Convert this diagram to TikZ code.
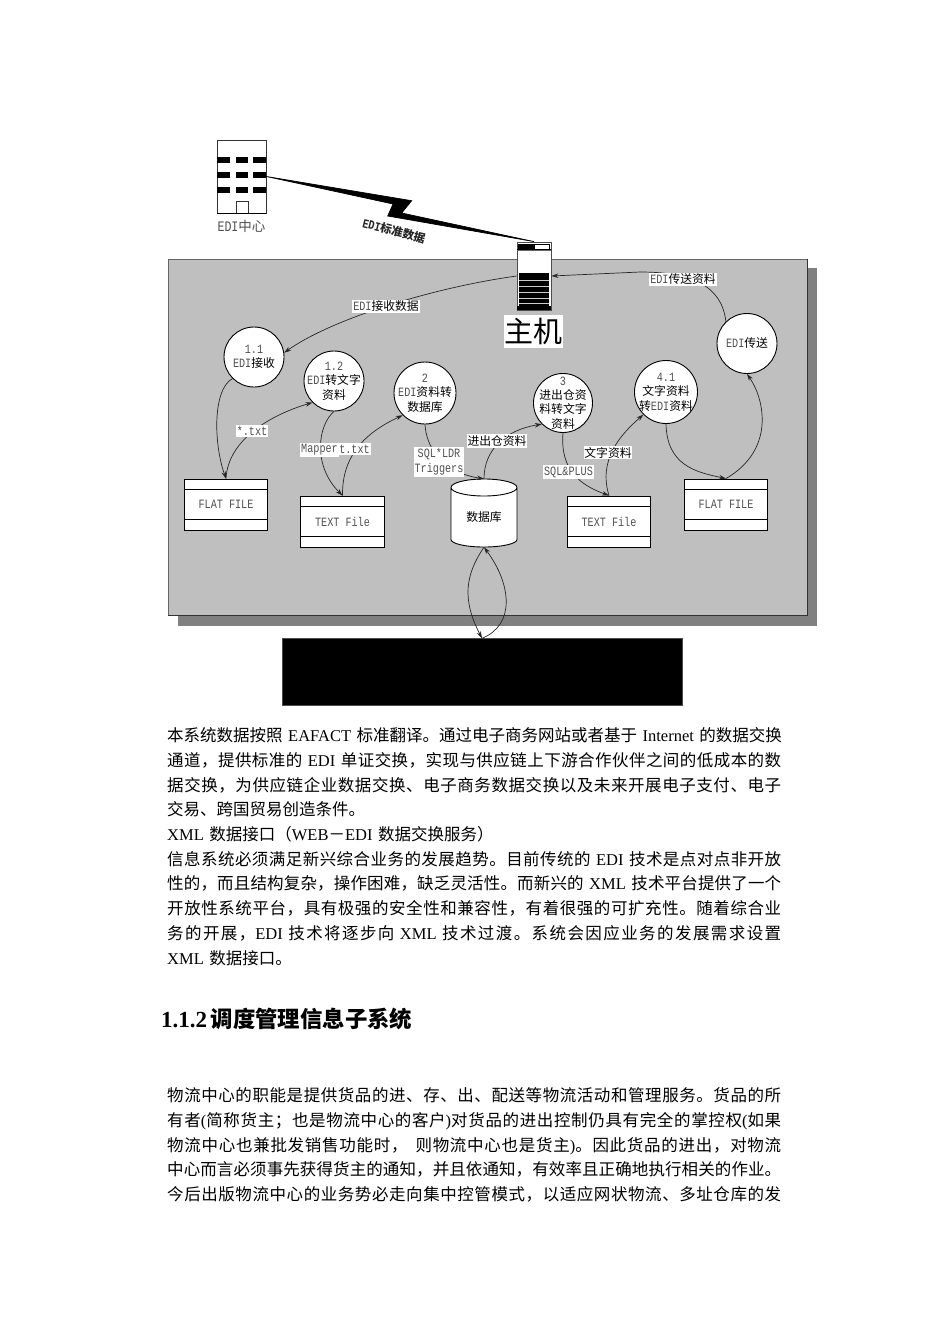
\documentclass[tikz,border=0pt]{standalone}
\usepackage{fontspec}
\usetikzlibrary{arrows.meta,calc}
\setmainfont{Noto Sans CJK SC}
\newfontfamily\enfont{Liberation Serif}
\newfontfamily\mofont[FakeStretch=0.8]{Liberation Mono}
\newcommand{\en}[1]{{\enfont #1}}
\definecolor{txtgray}{HTML}{505050}
\newcommand{\mo}[1]{{\mofont\fontsize{12.7}{13}\selectfont\color{txtgray}#1}}
% inter-character glue for justified CJK lines
\newXeTeXintercharclass\cjkc
\count255="4E00
\loop \XeTeXcharclass\count255=\cjkc \ifnum\count255<"9FFF \advance\count255 by 1 \repeat
\XeTeXcharclass"3001=\cjkc \XeTeXcharclass"3002=\cjkc \XeTeXcharclass"FF0C=\cjkc
\XeTeXcharclass"FF1B=\cjkc \XeTeXcharclass"FF08=\cjkc \XeTeXcharclass"FF09=\cjkc \XeTeXcharclass"FF0D=\cjkc
\XeTeXinterchartoks\cjkc\cjkc={\hskip 0pt plus 1pt\relax}
\XeTeXinterchartoks\cjkc 0={\hskip 0pt plus 1pt\relax}
\XeTeXinterchartoks 0\cjkc={\hskip 0pt plus 1pt\relax}
\newcommand{\fullline}[1]{\hbox to 614pt{\XeTeXinterchartokenstate=1 #1}}
\newcommand{\lastline}[1]{\hbox to 614pt{\XeTeXinterchartokenstate=0 #1\hfil}}
\tikzset{
  proc/.style={circle,draw=black,fill=white,line width=.9pt,inner sep=-10pt,align=center,font=\fontsize{11.8}{14.4}\selectfont},
  filebox/.style={rectangle,draw=black,fill=white,line width=.9pt,inner sep=0pt,minimum width=83.5pt,minimum height=51pt},
  lab/.style={fill=white,inner xsep=.8pt,inner ysep=1.5pt,align=center,font=\fontsize{11.8}{15}\selectfont},
  conn/.style={draw=black!85,line width=.7pt,-{Stealth[length=7pt,width=4.5pt]}},
  link/.style={draw=black!85,line width=.7pt},
  para/.style={anchor=north west,inner sep=0pt,text width=614pt,font=\fontsize{16.5}{24.7}\selectfont},
  win/.style={fill=black,draw=none}
}
\newcommand{\filelines}[3]{%
  \draw[line width=.9pt] ([yshift=-#2pt]#1.north west) -- ([yshift=-#2pt]#1.north east);
  \draw[line width=.9pt] ([yshift=-#3pt]#1.north west) -- ([yshift=-#3pt]#1.north east);}
\begin{document}
\begin{tikzpicture}[x=1pt,y=-1pt]
\useasboundingbox (0,0) rectangle (950,1344);
\fill[white] (0,0) rectangle (950,1344);
% panel
\fill[black!50] (178,268) rectangle (817,626);
\node[rectangle,draw=black!60,fill=black!25,line width=1pt,inner sep=0pt,minimum width=639pt,minimum height=356pt] (panel) at (487.5,437) {};
\draw[black!80,line width=.9pt] (panel.north east) -- (panel.south east) -- (panel.south west);
% building
\node[rectangle,draw=black!80,fill=white,line width=.9pt,inner sep=0pt,minimum width=49pt,minimum height=73pt] (bld) at (241.5,176.5) {};
\foreach \yy in {157,172,187}{
  \fill[win] (217,\yy) rectangle (230,\yy+6);
  \fill[win] (236,\yy) rectangle (248,\yy+6);
  \fill[win] (253,\yy) rectangle (266,\yy+6);
}
\draw[black!80,line width=.8pt] (236,213) -- (236,201) -- (248,201) -- (248,213);
\draw[black,line width=1pt] (217,213) -- (266,213);
\node[inner sep=0pt,font=\fontsize{13.5}{14}\selectfont,text=txtgray] (bldlab) at (241.5,226) {{\mofont\fontsize{14.5}{14}\selectfont EDI}中心};
% server
\node[rectangle,draw=black!70,fill=white,line width=.8pt,inner sep=0pt,minimum width=34pt,minimum height=68pt] (srv) at (534,276) {};
\fill[black] (517.5,244) rectangle (534,249.5);
\draw[black!60,line width=.6pt] (517,250.5) -- (551,250.5);
\draw[black,line width=.8pt] (517,249.5) -- (551,249.5);
\draw[black,line width=.8pt] (549,244) rectangle (534,249.5);
\fill[black] (519,273) rectangle (549,306);
\foreach \yy in {280,286,292,298,303}{\draw[white!80!black,line width=.4pt] (519,\yy) -- (549,\yy);}
\fill[black] (517,306) rectangle (551,310);
% lightning
\filldraw[black,line width=.7pt,line join=miter] (bld.east) -- (411.7,200.7) -- (401.7,213) -- (srv.north) -- (387.7,216) -- (393,204) -- cycle;
\node[inner sep=0pt,rotate=-14,font=\fontsize{11.5}{14}\selectfont\bfseries,text=black!85] (bolt) at (394,231) {{\mofont\fontsize{12.7}{12}\selectfont\bfseries EDI}标准数据};
\node[fill=white,inner sep=0pt,minimum width=59pt,minimum height=33pt,font=\fontsize{29}{32}\selectfont] (srvlab) at (533.5,331.5) {主机};
% processes
\node[proc,minimum size=60pt] (p11) at (254,357) {\mo{1.1}\\\mo{EDI}接收};
\node[proc,minimum size=60pt] (p12) at (334,381) {\mo{1.2}\\\mo{EDI}转文字\\资料};
\node[proc,minimum size=62pt] (p2) at (425,393) {\mo{2}\\\mo{EDI}资料转\\数据库};
\node[proc,minimum size=59pt] (p3) at (563,403) {\mo{3}\\进出仓资\\料转文字\\资料};
\node[proc,minimum size=63pt] (p41) at (666,392) {\mo{4.1}\\文字资料\\转\mo{EDI}资料};
\node[proc,minimum size=60pt] (pe) at (747,343.5) {\mo{EDI}传送};
% files
\node[filebox] (ff1) at (226,504.5) {\mo{FLAT FILE}};
\filelines{ff1}{11}{41}
\node[filebox] (tf1) at (342.5,521.5) {\mo{TEXT File}};
\filelines{tf1}{11}{41}
\node[filebox] (tf2) at (609,521.5) {\mo{TEXT File}};
\filelines{tf2}{11}{41}
\node[filebox] (ff2) at (726,504.5) {\mo{FLAT FILE}};
\filelines{ff2}{11}{41}
% database
\node[rectangle,inner sep=0pt,minimum width=66pt,minimum height=68pt,font=\fontsize{11.8}{14}\selectfont] (db) at (484,513) {};
\draw[black,fill=white,line width=.9pt] (451,487.5) -- (451,539.5) arc[start angle=180,end angle=360,x radius=33pt,y radius=7.5pt] -- (517,487.5) arc[start angle=0,end angle=360,x radius=33pt,y radius=8.5pt];
\node[inner sep=0pt,font=\fontsize{11.8}{14}\selectfont] (dblab) at (484,517) {数据库};
% black box
\node[rectangle,fill=black,draw=black!70,inner sep=0pt,minimum width=400pt,minimum height=67pt] (ext) at (482,672) {};
% connectors
\draw[conn] (srv.west) .. controls (430,288) and (330,320) .. (p11.8);
\coordinate (mid) at (640,272);
\draw[link] (pe.134) .. controls (722,285) and (690,272) .. (mid);
\draw[conn] (mid) -- (srv.east);
\draw[conn] (p11.225) .. controls (212,390) and (214,445) .. (ff1.north);
\draw[conn] (ff1.north) .. controls (228,440) and (270,415) .. (p12.225);
\draw[conn] (p12.south) .. controls (318,425) and (312,465) .. (tf1.north);
\draw[conn] (tf1.north) .. controls (342,460) and (360,435) .. (p2.225);
\draw[conn] (p2.south) .. controls (426,445) and (440,472) .. (db.north);
\draw[conn] (db.north) .. controls (484,450) and (505,430) .. (p3.225);
\draw[conn] (p3.south) .. controls (560,470) and (580,485) .. (tf2.north);
\draw[conn] (tf2.north) .. controls (598,460) and (620,435) .. (p41.225);
\draw[conn] (p41.south) .. controls (667,465) and (695,472) .. (ff2.north);
\draw[conn] (ff2.north) .. controls (775,450) and (765,400) .. (pe.south);
\draw[conn] (db.south) .. controls (465,575) and (462,600) .. (ext.north);
\draw[conn] (ext.north) .. controls (515,625) and (512,585) .. (db.south);
% connector labels
\node[lab] (l1) at (386,306.5) {\mo{EDI}接收数据};
\node[lab] (l2) at (683,279.5) {\mo{EDI}传送资料};
\node[lab] (l3) at (252,431) {\mo{*.txt}};
\node[lab] (l4) at (319.5,450) {\mo{Mapper}};
\node[lab] (l5) at (354.5,449) {\mo{t.txt}};
\node[lab] (l6) at (439,462) {\mo{SQL*LDR}\\\mo{Triggers}};
\node[lab] (l7) at (497,441) {进出仓资料};
\node[lab] (l8) at (568.5,472) {\mo{SQL\&PLUS}};
\node[lab] (l9) at (608,452.5) {文字资料};
% body text
\node[para] (t1) at (167,727.5) {\parindent=0pt
\fullline{本系统数据按照\en{ EAFACT }标准翻译。通过电子商务网站或者基于\en{ Internet }的数据交换}
\fullline{通道，提供标准的\en{ EDI }单证交换，实现与供应链上下游合作伙伴之间的低成本的数}
\fullline{据交换，为供应链企业数据交换、电子商务数据交换以及未来开展电子支付、电子}
\lastline{交易、跨国贸易创造条件。}
\lastline{\en{XML }数据接口（\en{WEB}－\en{EDI }数据交换服务）}
\fullline{信息系统必须满足新兴综合业务的发展趋势。目前传统的\en{ EDI }技术是点对点非开放}
\fullline{性的，而且结构复杂，操作困难，缺乏灵活性。而新兴的\en{ XML }技术平台提供了一个}
\fullline{开放性系统平台，具有极强的安全性和兼容性，有着很强的可扩充性。随着综合业}
\fullline{务的开展，\en{EDI }技术将逐步向\en{ XML }技术过渡。系统会因应业务的发展需求设置}
\lastline{\en{XML }数据接口。}};
\node[anchor=west,inner sep=0pt,font=\fontsize{22.4}{24}\selectfont\bfseries] (h1) at (161,1019) {{\enfont\fontsize{23}{24}\selectfont\bfseries 1.1.2}\hspace{3.5pt}调度管理信息子系统};
\node[para] (t2) at (167,1087.5) {\parindent=0pt
\fullline{物流中心的职能是提供货品的进、存、出、配送等物流活动和管理服务。货品的所}
\fullline{有者\en{(}简称货主；也是物流中心的客户\en{)}对货品的进出控制仍具有完全的掌控权\en{(}如果}
\fullline{物流中心也兼批发销售功能时，\hspace{8pt}则物流中心也是货主\en{)}。因此货品的进出，对物流}
\fullline{中心而言必须事先获得货主的通知，并且依通知，有效率且正确地执行相关的作业。}
\fullline{今后出版物流中心的业务势必走向集中控管模式，以适应网状物流、多址仓库的发}};
\end{tikzpicture}
\end{document}
